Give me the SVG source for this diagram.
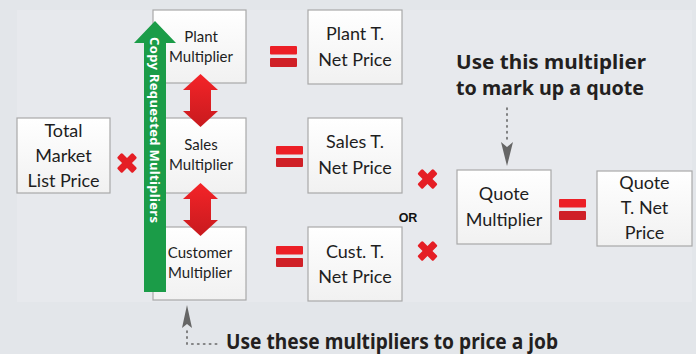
<svg xmlns="http://www.w3.org/2000/svg" width="696" height="354" viewBox="0 0 696 354">
<defs>
<linearGradient id="boxg" x1="0" y1="0" x2="0" y2="1"><stop offset="0" stop-color="#ffffff"/><stop offset="1" stop-color="#f1f1f1"/></linearGradient>
<linearGradient id="redg" x1="0" y1="0" x2="0" y2="1"><stop offset="0" stop-color="#f42428"/><stop offset="1" stop-color="#c81a1e"/></linearGradient>
<style>
.box{fill:url(#boxg);stroke:#a9a9a9;stroke-width:1.2}
.t{font-family:Lato,"Liberation Sans",sans-serif;fill:#1e1e1e;text-anchor:middle}
.m{font-size:15px}
.p{font-size:18px}
.b{font-family:"Noto Sans","Liberation Sans",sans-serif;font-weight:bold;fill:#231f20}
.eqa{fill:#ec1f26}
.eqb{fill:#cf2027}
.x{fill:#e51e25}
.dot{stroke:#666;stroke-width:1.6;stroke-dasharray:1.4 4.5;fill:none;stroke-linecap:round}
</style>
</defs>
<rect width="696" height="354" fill="#e3e6ea"/>
<rect x="17" y="10" width="675" height="292" fill="#e7e9ed"/>

<g id="total"><rect class="box" x="17" y="118" width="93" height="75"/>
<text class="t p" x="63.5" y="137">Total</text><text class="t p" x="63.5" y="162">Market</text><text class="t p" x="63.5" y="187">List Price</text></g>

<g id="x1"><g transform="translate(127,163) rotate(45)"><rect class="x" x="-11" y="-3.5" width="22" height="7" rx="1.5"/><rect class="x" x="-3.5" y="-11" width="7" height="22" rx="1.5"/></g></g>

<g id="plant"><rect class="box" x="153" y="10" width="93" height="73"/>
<text class="t m" x="201" y="42">Plant</text><text class="t m" x="201" y="62">Multiplier</text></g>
<g id="sales"><rect class="box" x="153" y="118" width="93" height="75"/>
<text class="t m" x="201" y="150">Sales</text><text class="t m" x="201" y="170">Multiplier</text></g>
<g id="customer"><rect class="box" x="153" y="227" width="93" height="73"/>
<text class="t m" x="200" y="258">Customer</text><text class="t m" x="200" y="278">Multiplier</text></g>

<g id="connectors">
<g id="green-arrow">
<polygon points="155,21 176,43 166,43 166,292 144,292 144,43 134,43" fill="#1b9c48"/>
<text transform="translate(150,37) rotate(90)" font-family="'Noto Sans','Liberation Sans',sans-serif" font-weight="bold" font-size="13" fill="#ffffff" textLength="186" lengthAdjust="spacing">Copy  Requested  Multipliers</text>
</g>
<polygon points="200.5,74 218,90 211,90 211,111 218,111 200.5,127 183,111 190,111 190,90 183,90" fill="url(#redg)"/>
<polygon points="200.5,183 218,199 211,199 211,220 218,220 200.5,236 183,220 190,220 190,199 183,199" fill="url(#redg)"/>
<path class="dot" d="M507,108 V140"/>
<polygon points="501,142 507,166 513,142 507,147" fill="#666"/>
<polygon points="182,328 187,305 192,328 187,324" fill="#666"/>
<path class="dot" d="M187,331 V344 H218"/>
</g>

<g id="eq1"><rect class="eqa" x="270" y="46" width="27" height="8.5" rx="1"/><rect class="eqb" x="270" y="58" width="27" height="9" rx="1"/></g>
<g id="eq2"><rect class="eqa" x="276" y="146" width="27" height="8.5" rx="1"/><rect class="eqb" x="276" y="158" width="27" height="9" rx="1"/></g>
<g id="eq3"><rect class="eqa" x="276" y="246" width="27" height="8.5" rx="1"/><rect class="eqb" x="276" y="258" width="27" height="9" rx="1"/></g>

<g id="plantnet"><rect class="box" x="308" y="10" width="94" height="74"/>
<text class="t p" x="355" y="40">Plant T.</text><text class="t p" x="355" y="66">Net Price</text></g>
<g id="salesnet"><rect class="box" x="308" y="118" width="94" height="75"/>
<text class="t p" x="355" y="148">Sales T.</text><text class="t p" x="355" y="174">Net Price</text></g>
<g id="custnet"><rect class="box" x="308" y="227" width="94" height="74"/>
<text class="t p" x="355" y="258">Cust. T.</text><text class="t p" x="355" y="283">Net Price</text></g>

<g id="x2"><g transform="translate(427.5,179) rotate(45)"><rect class="x" x="-11" y="-3.5" width="22" height="7" rx="1.5"/><rect class="x" x="-3.5" y="-11" width="7" height="22" rx="1.5"/></g></g>
<g id="x3"><g transform="translate(427.5,251) rotate(45)"><rect class="x" x="-11" y="-3.5" width="22" height="7" rx="1.5"/><rect class="x" x="-3.5" y="-11" width="7" height="22" rx="1.5"/></g></g>
<text x="408" y="222" font-family="'Liberation Sans',sans-serif" font-weight="bold" font-size="12.5" fill="#111" text-anchor="middle">OR</text>

<g id="quote"><rect class="box" x="457" y="170" width="94" height="74"/>
<text class="t p" x="504" y="200">Quote</text><text class="t p" x="504" y="226">Multiplier</text></g>
<g id="eq4"><rect class="eqa" x="559" y="199" width="27" height="8.5" rx="1"/><rect class="eqb" x="559" y="211" width="27" height="9" rx="1"/></g>
<g id="quotenet"><rect class="box" x="597" y="171" width="95" height="75"/>
<text class="t p" x="644.5" y="189">Quote</text><text class="t p" x="644.5" y="214">T. Net</text><text class="t p" x="644.5" y="239">Price</text></g>

<text class="b" x="456" y="69" font-size="20" textLength="190" lengthAdjust="spacingAndGlyphs">Use this multiplier</text>
<text class="b" x="456" y="95" font-size="20" textLength="188" lengthAdjust="spacingAndGlyphs">to mark up a quote</text>
<text class="b" x="226" y="349" font-size="21" textLength="332" lengthAdjust="spacingAndGlyphs">Use these multipliers to price a job</text>
</svg>
